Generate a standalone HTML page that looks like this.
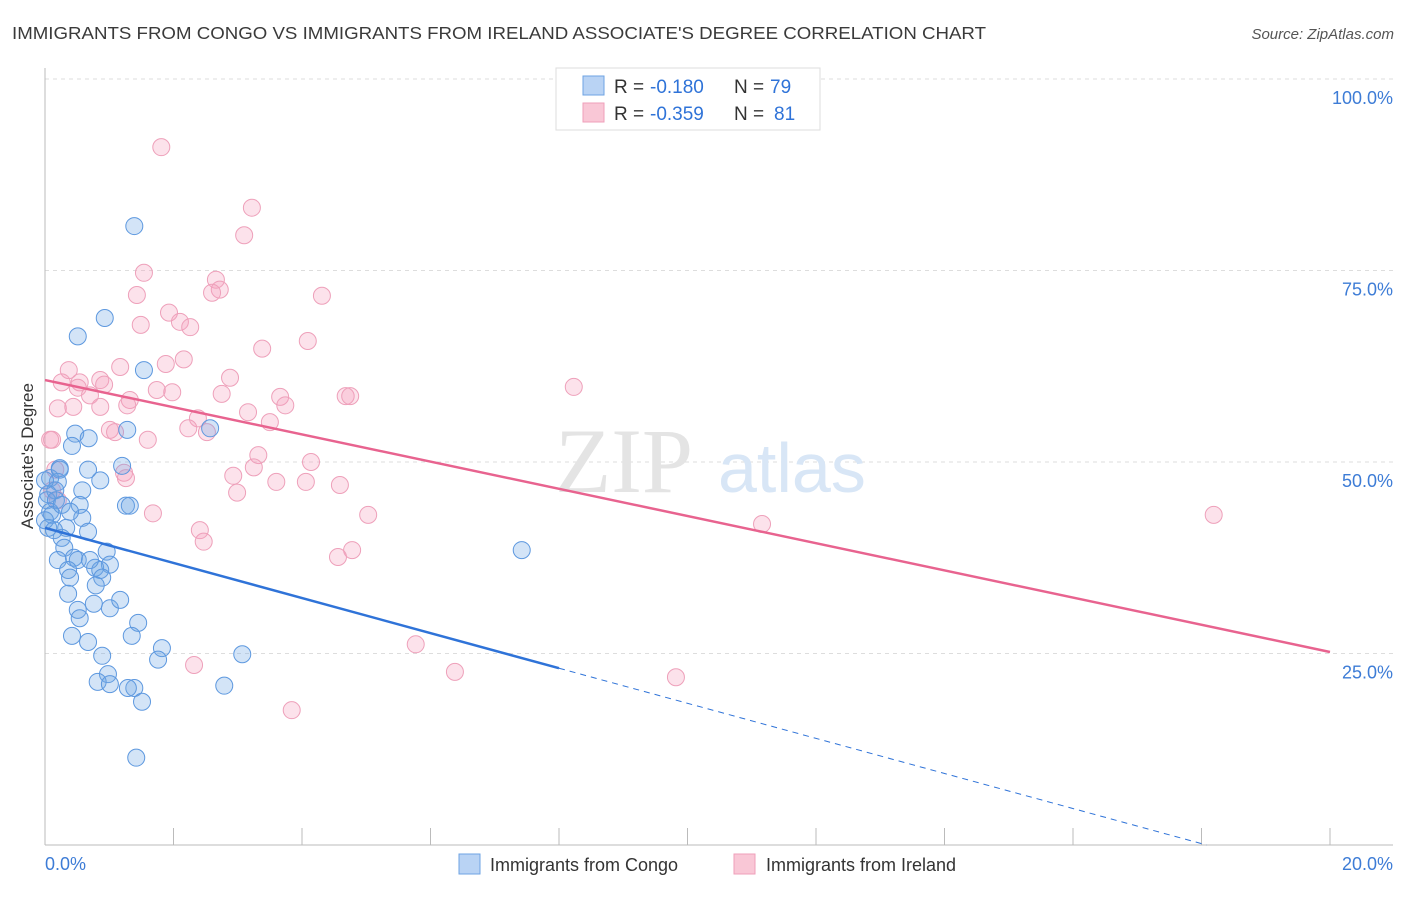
<!DOCTYPE html>
<html><head><meta charset="utf-8"><style>
body{margin:0;background:#fff;font-family:"Liberation Sans",sans-serif}
</style></head><body>
<svg id="c" width="1406" height="892" xmlns="http://www.w3.org/2000/svg" font-family="Liberation Sans, sans-serif">
<text x="12" y="39" font-size="17.5" fill="#3a3a3a" textLength="974" lengthAdjust="spacingAndGlyphs">IMMIGRANTS FROM CONGO VS IMMIGRANTS FROM IRELAND ASSOCIATE'S DEGREE CORRELATION CHART</text>
<text x="1394" y="39" font-size="15" font-style="italic" fill="#555" text-anchor="end">Source: ZipAtlas.com</text>
<g id="grid"></g>
<g><text x="555" y="492" font-size="92" font-family="Liberation Serif, serif" fill="#e4e4e4">ZIP</text><text x="718" y="492" font-size="70" fill="#d8e6f6">atlas</text></g>
<g id="pts"></g>
<g id="lines"></g>
<text transform="translate(33,456) rotate(-90)" font-size="17" fill="#333" text-anchor="middle">Associate's Degree</text>
<g font-size="19">
<rect x="556" y="68" width="264" height="62" fill="#fff" stroke="#ddd"/>
<rect x="583" y="76" width="21" height="19" fill="#b9d3f4" stroke="#6ea3e3"/>
<rect x="583" y="103" width="21" height="19" fill="#f9c7d6" stroke="#ef9fba"/>
<text x="614" y="93" fill="#333">R =</text><text x="650" y="93" fill="#2f73d8">-0.180</text><text x="734" y="93" fill="#333">N =</text><text x="770" y="93" fill="#2f73d8">79</text>
<text x="614" y="120" fill="#333">R =</text><text x="650" y="120" fill="#2f73d8">-0.359</text><text x="734" y="120" fill="#333">N =</text><text x="774" y="120" fill="#2f73d8">81</text>
</g>
<g>
<rect x="459" y="854" width="21" height="20" fill="#b9d3f4" stroke="#6ea3e3"/>
<text x="490" y="871" font-size="18" fill="#333">Immigrants from Congo</text>
<rect x="734" y="854" width="21" height="20" fill="#f9c7d6" stroke="#ef9fba"/>
<text x="766" y="871" font-size="18" fill="#333">Immigrants from Ireland</text>
</g>
</svg>
<script>
const yTicks=[25,50,75,100];
const yTickLabels=["25.0%","50.0%","75.0%","100.0%"];
const xTicks=[0,2,4,6,8,10,12,14,16,18,20];
const congoX=[1.39,0.93,0.51,1.54,1.28,2.57,0.47,0.68,0.42,1.20,0.23,0.67,0.86,0.08,0.20,0.58,0.05,0.16,0.03,0.17,1.26,1.32,0.54,0.08,0.11,0.58,0.33,0.05,0.67,0.26,0.30,0.96,0.45,0.20,0.51,1.01,0.78,0.86,0.36,0.89,0.39,0.79,0.36,0.76,1.01,0.51,0.54,1.45,1.35,0.42,0.67,1.82,0.89,1.76,3.07,0.98,0.82,1.01,1.39,1.29,2.79,1.51,1.42,7.42,0.23,0.00,0.00,0.70,0.26,0.39,0.14,1.17];
const congoY=[80.8,68.8,66.4,62.0,54.2,54.4,53.7,53.1,52.1,49.5,49.2,49.0,47.6,47.9,47.4,46.3,45.8,46.3,45.0,45.0,44.3,44.3,44.4,43.5,43.1,42.7,41.4,41.4,40.9,40.1,38.8,38.3,37.5,37.2,37.2,36.6,36.2,35.9,35.9,34.9,34.9,33.9,32.8,31.5,30.9,30.7,29.6,29.0,27.3,27.3,26.5,25.7,24.7,24.2,24.9,22.3,21.3,21.0,20.5,20.5,20.8,18.7,11.4,38.5,49.0,47.6,42.4,37.2,44.4,43.5,41.1,32.0];
const irelandX=[1.81,3.22,3.10,1.54,2.66,1.43,2.72,2.60,4.31,1.93,2.10,1.49,2.26,4.09,3.38,2.16,1.88,1.17,0.37,2.88,8.23,0.26,0.54,0.86,0.51,0.92,1.74,1.98,2.75,0.70,1.32,3.66,4.68,4.75,3.74,0.20,0.44,0.86,1.28,3.16,2.38,3.50,2.23,1.01,1.09,2.52,0.11,1.60,3.32,4.14,3.25,1.23,2.93,1.26,3.60,4.06,4.59,2.99,1.68,5.03,18.19,11.16,2.41,2.47,4.78,4.56,5.77,2.32,6.38,9.82,3.84,0.16,0.11,0.20,0.08];
const irelandY=[91.1,83.2,79.6,74.7,73.8,71.8,72.5,72.1,71.7,69.5,68.3,67.9,67.6,65.8,64.8,63.4,62.8,62.4,62.0,61.0,59.8,60.4,60.4,60.7,59.7,60.1,59.4,59.1,58.9,58.7,58.1,58.5,58.6,58.6,57.4,57.0,57.2,57.2,57.4,56.5,55.7,55.2,54.4,54.2,53.9,53.9,52.9,52.9,50.9,50.0,49.3,48.6,48.2,47.9,47.4,47.4,47.0,46.0,43.3,43.1,43.1,41.9,41.1,39.6,38.5,37.6,26.2,23.5,22.6,21.9,17.6,49.0,46.3,45.0,52.9];
const congoTrend=[41.4,-2.29];
const irelandTrend=[60.7,-1.775];
const X=v=>45+v*64.25, Y=v=>845-v*7.66;
const NS="http://www.w3.org/2000/svg";
function mk(t,a,p){const e=document.createElementNS(NS,t);for(const k in a)e.setAttribute(k,a[k]);p.appendChild(e);return e;}
const g=document.getElementById('grid');
yTicks.forEach((t,i)=>{
 const l=mk('line',{x1:45,x2:1393,y1:Y(t),y2:Y(t),stroke:'#ddd','stroke-dasharray':'4,4'},g);
 
 
 const tx=mk('text',{x:1393,y:Y(t)+25,'font-size':18,fill:'#3d7cd6','text-anchor':'end'},g);
 tx.textContent=yTickLabels[i];
 
 
});
mk('line',{x1:45,x2:45,y1:68,y2:845,stroke:'#bbb'},g);
mk('line',{x1:45,x2:1393,y1:845,y2:845,stroke:'#bbb'},g);
xTicks.forEach(t=>{const l=mk('line',{x1:X(t),x2:X(t),y1:828,y2:845,stroke:'#bbb'},g);
 
 });
const x0=mk('text',{x:45,y:870,'font-size':18,fill:'#3d7cd6'},g);x0.textContent="0.0%";


const x1=mk('text',{x:1393,y:870,'font-size':18,fill:'#3d7cd6','text-anchor':'end'},g);x1.textContent="20.0%";


const p=document.getElementById('pts');
irelandX.forEach((v,i)=>{const c=mk('circle',{cx:X(v),cy:Y(irelandY[i]),r:8.5,fill:'rgba(244,160,188,0.3)',stroke:'#eea0ba','stroke-width':1},p);
 
 });
congoX.forEach((v,i)=>{const c=mk('circle',{cx:X(v),cy:Y(congoY[i]),r:8.5,fill:'rgba(110,165,230,0.3)',stroke:'#5d98df','stroke-width':1},p);
 
 });
const L=document.getElementById('lines');
const cy=x=>congoTrend[0]+congoTrend[1]*x, iy=x=>irelandTrend[0]+irelandTrend[1]*x;
const xe=-congoTrend[0]/congoTrend[1];
let a=mk('line',{x1:X(0),y1:Y(cy(0)),x2:X(8),y2:Y(cy(8)),stroke:'#2f73d8','stroke-width':2.5},L);


a=mk('line',{x1:X(8),y1:Y(cy(8)),x2:X(xe),y2:Y(0),stroke:'#2f73d8','stroke-width':1,'stroke-dasharray':'6,5'},L);


a=mk('line',{x1:X(0),y1:Y(iy(0)),x2:X(20),y2:Y(iy(20)),stroke:'#e8638f','stroke-width':2.5},L);


</script>
</body></html>
